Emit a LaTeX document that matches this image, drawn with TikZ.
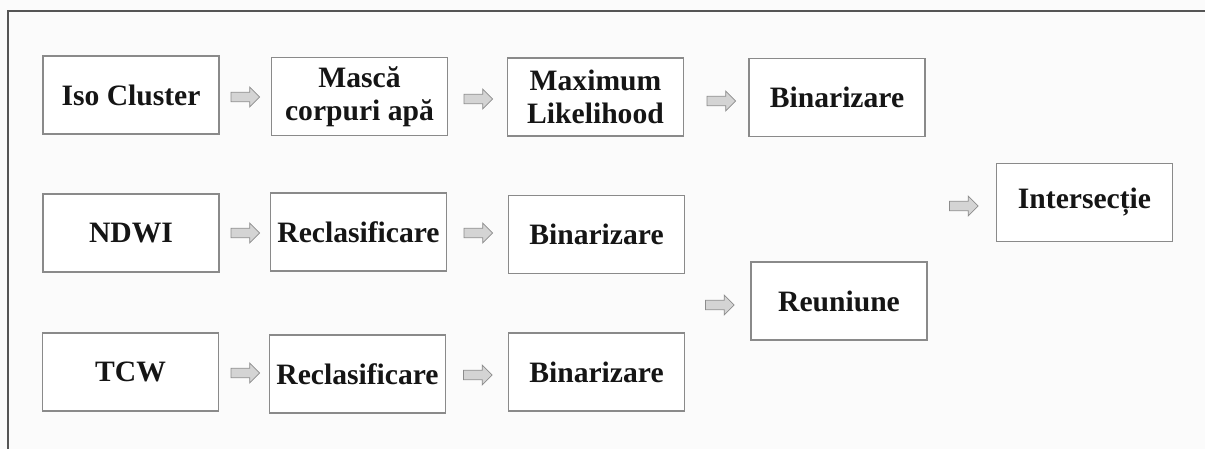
\documentclass[tikz,border=0pt]{standalone}
\usepackage{fontspec}
\setmainfont{Liberation Serif}
\usetikzlibrary{shapes.arrows}
\definecolor{framec}{HTML}{555555}
\definecolor{boxc}{HTML}{8A8A8A}
\definecolor{arrfill}{HTML}{D4D4D4}
\definecolor{arrdraw}{HTML}{8C8C8C}
\definecolor{txt}{HTML}{151515}
\definecolor{bg}{HTML}{FBFBFB}
\tikzset{
  box/.style={draw=boxc, line width=0.8pt, fill=white, rectangle,
    minimum width=132pt, minimum height=58.5pt, inner sep=0pt,
    align=center, text=txt,
    font=\fontsize{22.2}{24.5}\selectfont\bfseries},
  blockarrow/.style={single arrow, draw=arrdraw, fill=arrfill, line width=0.6pt,
    inner xsep=0pt, inner ysep=3.2pt, minimum height=21.5pt,
    single arrow head extend=4pt, single arrow tip angle=90},
  frameline/.style={draw=framec, line width=1.5pt}
}
\begin{document}
\begin{tikzpicture}[x=0.75pt,y=-0.75pt]
\useasboundingbox (0,0) rectangle (1205,449);
\fill[bg] (0,0) rectangle (1205,449);
\coordinate (ftr) at (1205,11);
\coordinate (ftl) at (8,11);
\coordinate (fbl) at (8,449);
\draw[frameline] (ftr) -- (ftl) -- (fbl);
% boxes
\node[box] (iso)    at (131,95)     {Iso Cluster};
\node[box] (masca)  at (359.5,96.5) {Mască\\corpuri apă};
\node[box] (ml)     at (595.5,97)   {Maximum\\Likelihood};
\node[box] (bin1)   at (837,97.5)   {Binarizare};
\node[box] (ndwi)   at (131,233)    {NDWI};
\node[box] (recl2)  at (358.5,232)  {Reclasificare};
\node[box] (bin2)   at (596.5,234.5){Binarizare};
\node[box] (tcw)    at (130.5,372)  {TCW};
\node[box] (recl3)  at (357.5,374)  {Reclasificare};
\node[box] (bin3)   at (596.5,372)  {Binarizare};
\node[box] (reun)   at (839,301)    {Reuniune};
\node[box] (inters) at (1084.5,202.5){Intersecție};
% block arrows
\node[blockarrow] (a1) at (243,97) {};
\node[blockarrow] (a2) at (476,99) {};
\node[blockarrow] (a3) at (719,101) {};
\node[blockarrow] (a4) at (243,233) {};
\node[blockarrow] (a5) at (476,233) {};
\node[blockarrow] (a6) at (243,373) {};
\node[blockarrow] (a7) at (475.5,375) {};
\node[blockarrow] (a8) at (717.5,305) {};
\node[blockarrow] (a9) at (961.5,206) {};
\end{tikzpicture}
\end{document}
